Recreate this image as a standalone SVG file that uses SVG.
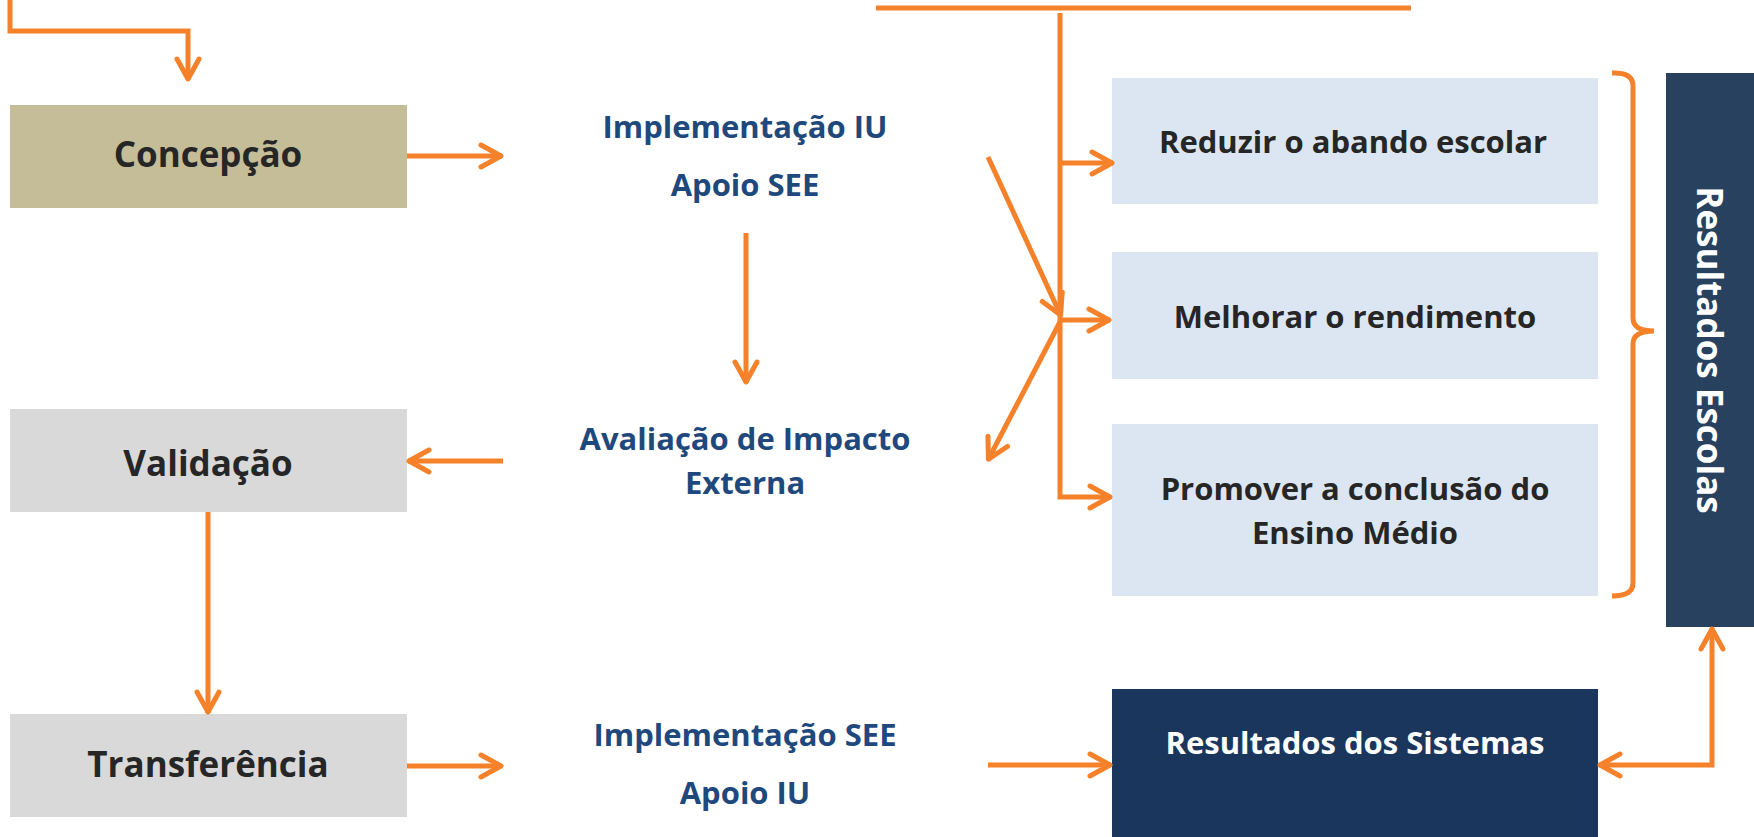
<svg xmlns="http://www.w3.org/2000/svg" width="1754" height="837" viewBox="0 0 1754 837">
<style>
.stage{font-family:"Open Sans","Liberation Sans",sans-serif;font-weight:bold;font-size:35px;fill:#262626;text-anchor:middle}
.blue{font-family:"Open Sans","Liberation Sans",sans-serif;font-weight:bold;font-size:31px;fill:#1F497D;text-anchor:middle}
.res{font-family:"Open Sans","Liberation Sans",sans-serif;font-weight:bold;font-size:31px;fill:#262626;text-anchor:middle}
.wt{fill:#FFFFFF}
.c{fill:none;stroke:#F5822A;stroke-width:5;stroke-linejoin:miter}
.a{marker-end:url(#ah)}
</style>
<defs>
<marker id="ah" viewBox="0 0 28 30" refX="25" refY="15" markerWidth="28" markerHeight="30" orient="auto-start-reverse" markerUnits="userSpaceOnUse">
<path d="M4,4 L24,15 L4,26" fill="none" stroke="#F5822A" stroke-width="5" stroke-linecap="round" stroke-linejoin="round"/>
</marker>
</defs>
<rect width="1754" height="837" fill="#FFFFFF"/>

<g id="concepcao">
<rect x="10" y="105" width="397" height="103" fill="#C4BD97"/>
<text class="stage" x="208" y="167">Concepção</text>
</g>
<g id="validacao">
<rect x="10" y="409" width="397" height="103" fill="#D9D9D9"/>
<text class="stage" x="208" y="476">Validação</text>
</g>
<g id="transferencia">
<rect x="10" y="714" width="397" height="103" fill="#D9D9D9"/>
<text class="stage" x="208" y="777">Transferência</text>
</g>
<g id="impl-iu">
<text class="blue" x="745" y="138">Implementação IU</text>
<text class="blue" x="745" y="196">Apoio SEE</text>
</g>
<g id="avaliacao">
<text class="blue" x="745" y="450">Avaliação de Impacto</text>
<text class="blue" x="745" y="494">Externa</text>
</g>
<g id="impl-see">
<text class="blue" x="745" y="746">Implementação SEE</text>
<text class="blue" x="745" y="804">Apoio IU</text>
</g>
<g id="reduzir">
<rect x="1112" y="78" width="486" height="126" fill="#DCE6F2"/>
<text class="res" x="1353" y="153">Reduzir o abando escolar</text>
</g>
<g id="melhorar">
<rect x="1112" y="252" width="486" height="127" fill="#DCE6F2"/>
<text class="res" x="1355" y="328">Melhorar o rendimento</text>
</g>
<g id="promover">
<rect x="1112" y="424" width="486" height="172" fill="#DCE6F2"/>
<text class="res" x="1355" y="500">Promover a conclusão do</text>
<text class="res" x="1355" y="544">Ensino Médio</text>
</g>
<g id="sistemas">
<rect x="1112" y="689" width="486" height="148" fill="#1B365D"/>
<text class="res wt" x="1355" y="754">Resultados dos Sistemas</text>
</g>
<g id="escolas">
<rect x="1666" y="73" width="88" height="554" fill="#27415F"/>
<text class="stage wt" transform="translate(1697,350) rotate(90)" x="0" y="0">Resultados Escolas</text>
</g>

<g id="connectors">
<path class="c a" d="M10,0 V31 H188 V80"/>
<path class="c a" d="M407,156 H502"/>
<path class="c a" d="M746,233 V383"/>
<path class="c a" d="M503,461 H408"/>
<path class="c a" d="M208,512 V713"/>
<path class="c a" d="M407,766 H502"/>
<path class="c a" d="M988,765 H1111"/>
<path class="c a" d="M1599,765 H1712 V628" style="marker-start:url(#ah)"/>
<path class="c" d="M876,8 H1411"/>
<path class="c a" d="M1060,13 V497 H1111"/>
<path class="c a" d="M1060,163 H1113"/>
<path class="c a" d="M1060,320 H1110"/>
<path class="c a" d="M988,157 L1061,316"/>
<path class="c a" d="M1061,320 L988,460"/>
<path class="c" d="M1612,73 Q1633,72 1633,86 L1633,318 Q1633,331 1654,331 Q1633,331 1633,344 L1633,583 Q1633,596 1612,596"/>
</g>
</svg>
